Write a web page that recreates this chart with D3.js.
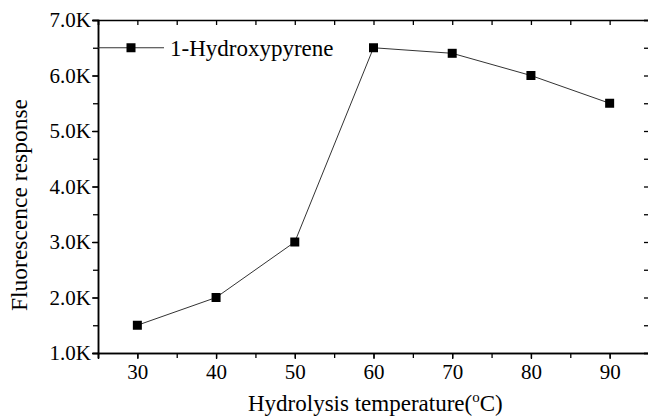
<!DOCTYPE html>
<html>
<head>
<meta charset="utf-8">
<script src="https://cdn.jsdelivr.net/npm/d3@7"></script>
<style>
  body { margin: 0; background: #fff; }
  svg { display: block; font-family: "Liberation Serif", "DejaVu Serif", serif; }
</style>
</head>
<body>
<svg id="chart" width="648" height="418"></svg>
<script>
const temps = [30, 40, 50, 60, 70, 80, 90]
const response = [1500, 2000, 3000, 6500, 6400, 6000, 5500]
const seriesName = '1-Hydroxypyrene'
const xTicks = [30, 40, 50, 60, 70, 80, 90]
const yTicks = [1000, 2000, 3000, 4000, 5000, 6000, 7000]

const svg = d3.select('#chart')
const plotLeft = 98, plotRight = 649, plotTop = 20, plotBottom = 353

const x = d3.scaleLinear().domain([25, 95]).range([plotLeft, plotRight])
const y = d3.scaleLinear().domain([1000, 7000]).range([plotBottom, plotTop])

const fmt = d => (d / 1000).toFixed(1) + 'K'
const minorX = d3.range(25, 96, 5)
const minorY = d3.range(1000, 7001, 500)

// bottom axis
svg.append('g').attr('transform', `translate(0,${plotBottom})`)
  .call(d3.axisBottom(x).tickValues(minorX).tickSize(5).tickFormat(''))
  .call(g => g.append('g').call(d3.axisBottom(x).tickValues(xTicks).tickSize(6).tickPadding(5)))

// left axis
svg.append('g').attr('transform', `translate(${plotLeft},0)`)
  .call(d3.axisLeft(y).tickValues(minorY).tickSize(5).tickFormat(''))
  .call(g => g.append('g').call(d3.axisLeft(y).tickValues(yTicks).tickSize(6).tickPadding(1).tickFormat(fmt)))

// mirrored top and right
svg.append('g').attr('transform', `translate(0,${plotTop})`)
  .call(d3.axisTop(x).tickValues(minorX).tickSize(-5).tickFormat(''))
svg.append('g').attr('transform', `translate(${plotRight},0)`)
  .call(d3.axisRight(y).tickValues(minorY).tickSize(-5).tickFormat(''))

svg.selectAll('.domain').attr('stroke', '#000').attr('stroke-width', 1.5)
svg.selectAll('.tick line').attr('stroke', '#000').attr('stroke-width', 1.3)
svg.selectAll('.tick text')
  .style('font-family', '"Liberation Serif", serif')
  .style('font-size', '21px')
  .attr('fill', '#000')

const pts = temps.map((t, i) => [t, response[i]])

svg.append('path')
  .datum(pts)
  .attr('fill', 'none')
  .attr('stroke', '#333')
  .attr('stroke-width', 1)
  .attr('d', d3.line().x(d => x(d[0])).y(d => y(d[1])))

svg.selectAll('rect.pt')
  .data(pts)
  .join('rect')
  .attr('class', 'pt')
  .attr('x', d => x(d[0]) - 4.5)
  .attr('y', d => y(d[1]) - 4.5)
  .attr('width', 9)
  .attr('height', 9)
  .attr('fill', '#000')

// legend
const ly = y(6500)
svg.append('line').attr('x1', plotLeft).attr('x2', 164).attr('y1', ly).attr('y2', ly)
  .attr('stroke', '#333').attr('stroke-width', 1)
svg.append('rect').attr('x', 131 - 4.5).attr('y', ly - 4.5).attr('width', 9).attr('height', 9).attr('fill', '#000')
svg.append('text').attr('x', 170).attr('y', ly + 8).attr('font-size', 23).text(seriesName)

// axis titles
svg.append('text')
  .attr('transform', `translate(27,205) rotate(-90)`)
  .attr('text-anchor', 'middle')
  .attr('font-size', 23.5)
  .text('Fluorescence response')

const xt = svg.append('text')
  .attr('x', 248).attr('y', 411)
  .attr('font-size', 23)
xt.append('tspan').text('Hydrolysis temperature(')
xt.append('tspan').attr('dy', -9).attr('font-size', 15).text('o')
xt.append('tspan').attr('dy', 9).text('C)')
</script>
</body>
</html>
